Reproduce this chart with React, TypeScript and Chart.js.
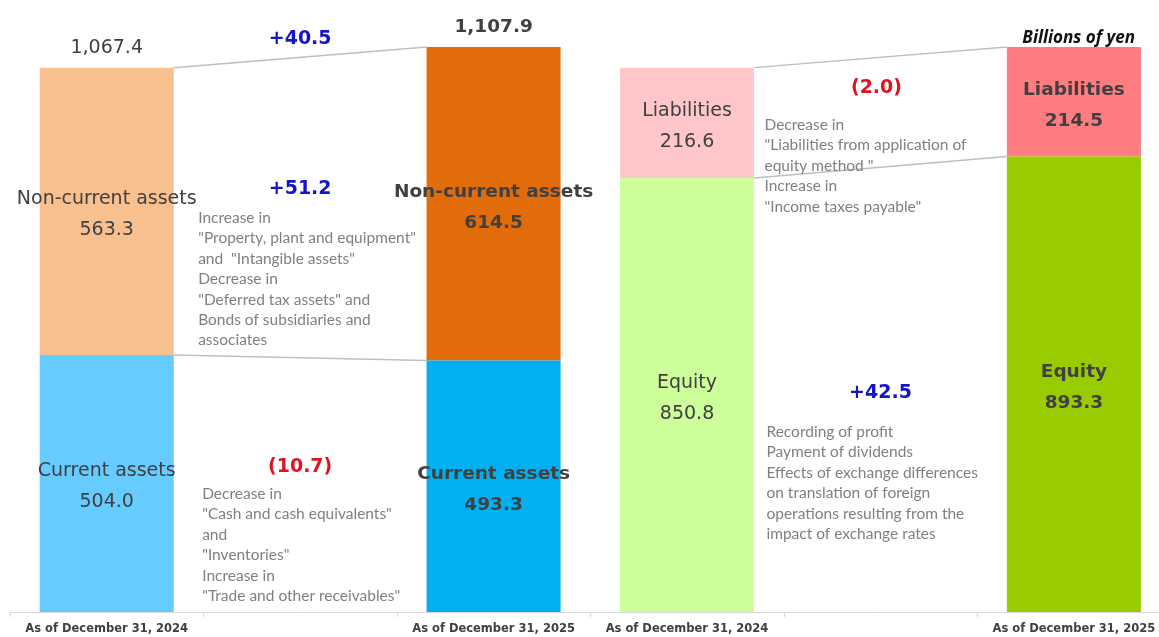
import React, { useEffect, useRef } from "react";
import { Chart, registerables } from "chart.js";

Chart.register(...registerables);

// ---- data ----
const categoryLabels = [
  "As of December 31, 2024",
  "As of December 31, 2025",
  "As of December 31, 2024",
  "As of December 31, 2025",
];
const slotPositions = [0, 2, 3, 5];
const assetSlots = [0, 2];
const capitalSlots = [3, 5];
const currentAssets = [504.0, 493.3];
const nonCurrentAssets = [563.3, 614.5];
const equity = [850.8, 893.3];
const liabilities = [216.6, 214.5];
const totalAssets = [1067.4, 1107.9];
const seriesNames = ["Current assets", "Non-current assets", "Equity", "Liabilities"];
const changeTotal = "+40.5";
const changeNonCurrent = "+51.2";
const changeCurrent = "(10.7)";
const changeLiabilities = "(2.0)";
const changeEquity = "+42.5";
const notesNonCurrent = [
  "Increase in",
  "\"Property, plant and equipment\"",
  "and  \"Intangible assets\"",
  "Decrease in",
  "\"Deferred tax assets\" and",
  "Bonds of subsidiaries and",
  "associates",
];
const notesCurrent = [
  "Decrease in",
  "\"Cash and cash equivalents\"",
  "and",
  "\"Inventories\"",
  "Increase in",
  "\"Trade and other receivables\"",
];
const notesLiabilities = [
  "Decrease in",
  "\"Liabilities from application of",
  "equity method \"",
  "Increase in",
  "\"Income taxes payable\"",
];
const notesEquity = [
  "Recording of profit",
  "Payment of dividends",
  "Effects of exchange differences",
  "on translation of foreign",
  "operations resulting from the",
  "impact of exchange rates",
];
const unitLabel = "Billions of yen";

// ---- styles ----
const MAIN_FONT = '"DejaVu Sans", Verdana, sans-serif';
const NOTE_FONT = 'Lato, "Noto Sans", sans-serif';
const UNIT_FONT = '"Open Sans", "Noto Sans", sans-serif';
const TEXT_DARK = "#404040";
const NOTE_COLOR = "#808080";
const BLUE = "#1414c8";
const RED = "#e0141e";

const overlayPlugin = {
  id: "overlay",
  afterDatasetsDraw(chart: any) {
    const { ctx, chartArea: area, scales } = chart;
    const xs = scales.x;
    const metas = [0, 1, 2, 3].map((i) => chart.getDatasetMeta(i).data);
    ctx.save();

    // axis tick marks at slot boundaries
    ctx.strokeStyle = "#d9d9d9";
    ctx.lineWidth = 1;
    for (let k = 0; k < 6; k++) {
      const px = Math.round(xs.getPixelForValue(k - 0.5)) + 0.5;
      ctx.beginPath();
      ctx.moveTo(px, area.bottom);
      ctx.lineTo(px, area.bottom + 5);
      ctx.stroke();
    }

    // connector lines
    ctx.strokeStyle = "#bfbfbf";
    ctx.lineWidth = 1.5;
    const connect = (a: any, b: any) => {
      ctx.beginPath();
      ctx.moveTo(a.x + a.width / 2, a.y);
      ctx.lineTo(b.x - b.width / 2, b.y);
      ctx.stroke();
    };
    connect(metas[0][0], metas[0][1]);
    connect(metas[1][0], metas[1][1]);
    connect(metas[2][0], metas[2][1]);
    connect(metas[3][0], metas[3][1]);

    // labels in bars
    ctx.textAlign = "center";
    ctx.textBaseline = "middle";
    ctx.fillStyle = TEXT_DARK;
    const values = [currentAssets, nonCurrentAssets, equity, liabilities];
    for (let di = 0; di < 4; di++) {
      for (let j = 0; j < 2; j++) {
        const el = metas[di][j];
        const mid = (el.y + el.base) / 2;
        ctx.font = j === 1 ? `bold 18.5px ${MAIN_FONT}` : `19px ${MAIN_FONT}`;
        ctx.fillText(seriesNames[di], el.x, mid - 12);
        ctx.fillText(values[di][j].toFixed(1), el.x, mid + 19);
      }
    }

    // totals above asset bars
    for (let j = 0; j < 2; j++) {
      const el = metas[1][j];
      ctx.font = j === 1 ? `bold 18.5px ${MAIN_FONT}` : `19px ${MAIN_FONT}`;
      ctx.fillText(
        totalAssets[j].toLocaleString("en-US", { minimumFractionDigits: 1 }),
        el.x,
        el.y - 20
      );
    }

    // change labels
    const xL = xs.getPixelForValue(1);
    const xR = xs.getPixelForValue(4);
    ctx.font = `bold 19px ${MAIN_FONT}`;
    ctx.fillStyle = BLUE;
    ctx.fillText(changeTotal, xL, 39);
    ctx.fillText(changeNonCurrent, xL, 189);
    ctx.fillText(changeEquity, xR, 393);
    ctx.fillStyle = RED;
    ctx.fillText(changeCurrent, xL, 467);
    ctx.fillText(changeLiabilities, xR - 4, 88);

    // notes
    ctx.textAlign = "left";
    ctx.fillStyle = NOTE_COLOR;
    ctx.font = `15.5px ${NOTE_FONT}`;
    const block = (lines: string[], x: number, y: number) => {
      lines.forEach((t, i) => ctx.fillText(t, x, y + i * 20.4));
    };
    block(notesNonCurrent, xL - 102, 218);
    block(notesCurrent, xL - 98, 494);
    block(notesLiabilities, xR - 116, 125);
    block(notesEquity, xR - 114, 432);

    // unit
    ctx.textAlign = "right";
    ctx.fillStyle = "#111111";
    ctx.font = `italic bold 17px ${UNIT_FONT}`;
    ctx.fillText(unitLabel, 1135, 38);

    ctx.restore();
  },
};

export default function App() {
  const canvasRef = useRef<HTMLCanvasElement | null>(null);

  useEffect(() => {
    if (!canvasRef.current) return;
    const pts = (slots: number[], vals: number[]) =>
      slots.map((x, i) => ({ x, y: vals[i] }));
    const chart = new Chart(canvasRef.current, {
      type: "bar",
      data: {
        datasets: [
          {
            label: seriesNames[0],
            data: pts(assetSlots, currentAssets),
            backgroundColor: ["#66ccff", "#00b0f0"],
          },
          {
            label: seriesNames[1],
            data: pts(assetSlots, nonCurrentAssets),
            backgroundColor: ["#f9c08f", "#e26b0a"],
          },
          {
            label: seriesNames[2],
            data: pts(capitalSlots, equity),
            backgroundColor: ["#ccff99", "#99cc00"],
          },
          {
            label: seriesNames[3],
            data: pts(capitalSlots, liabilities),
            backgroundColor: ["#ffc7c9", "#ff7c80"],
          },
        ] as any,
      },
      options: {
        animation: false,
        responsive: true,
        maintainAspectRatio: false,
        layout: { padding: { left: 10, right: 0, top: 0, bottom: 0 } },
        datasets: { bar: { categoryPercentage: 1, barPercentage: 0.693 } } as any,
        plugins: {
          legend: { display: false },
          tooltip: { enabled: false },
        },
        scales: {
          x: {
            type: "linear",
            min: -0.5,
            max: 5.44,
            offset: false,
            stacked: true,
            grid: { display: false, drawTicks: false },
            border: { display: true, color: "#d9d9d9", width: 1 },
            afterBuildTicks: (scale: any) => {
              scale.ticks = slotPositions.map((v) => ({ value: v }));
            },
            afterFit: (scale: any) => {
              scale.height = 25;
            },
            ticks: {
              autoSkip: false,
              maxRotation: 0,
              padding: 1,
              color: TEXT_DARK,
              font: { family: MAIN_FONT, size: 11.5, weight: "bold", lineHeight: 2.7 },
              callback: (_v: any, i: number) => categoryLabels[i],
            },
          },
          y: {
            display: false,
            stacked: true,
            min: 0,
            max: 1200,
          },
        },
      } as any,
      plugins: [overlayPlugin],
    });
    return () => chart.destroy();
  }, []);

  return (
    <div style={{ position: "absolute", left: 0, top: 0, width: 1159, height: 637, background: "#ffffff" }}>
      <canvas ref={canvasRef} />
    </div>
  );
}
